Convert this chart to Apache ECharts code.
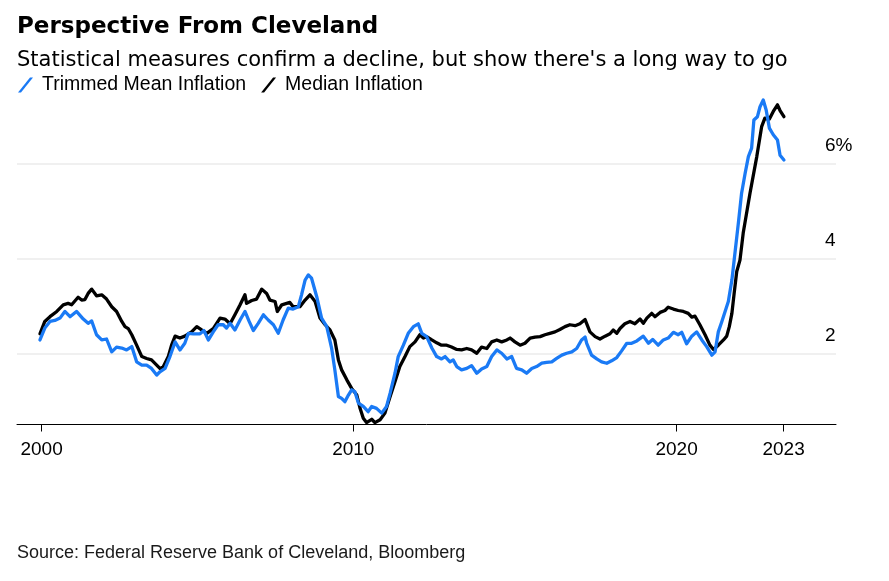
<!DOCTYPE html>
<html>
<head>
<meta charset="utf-8">
<script src="https://cdn.jsdelivr.net/npm/echarts@6/dist/echarts.min.js"></script>
<style>html,body{margin:0;padding:0;background:#fff}#c{width:889px;height:581px}</style>
</head>
<body>
<div id="c"></div>
<script>
// ---- Data ----
const medianYears = [2000.31,2000.46,2000.62,2000.83,2001.03,2001.18,2001.29,2001.49,2001.60,2001.70,2001.80,2001.91,2002.06,2002.22,2002.37,2002.53,2002.68,2002.84,2002.94,2003.04,2003.15,2003.30,2003.46,2003.61,2003.76,2003.92,2004.02,2004.12,2004.28,2004.38,2004.49,2004.64,2004.79,2005.00,2005.16,2005.31,2005.47,2005.67,2005.88,2006.03,2006.19,2006.34,2006.50,2006.65,2006.70,2006.86,2007.01,2007.17,2007.32,2007.42,2007.58,2007.65,2007.79,2008.04,2008.14,2008.35,2008.51,2008.66,2008.82,2008.97,2009.13,2009.28,2009.43,2009.54,2009.64,2009.80,2009.95,2010.11,2010.21,2010.31,2010.41,2010.57,2010.67,2010.83,2010.98,2011.14,2011.29,2011.44,2011.60,2011.75,2011.91,2012.06,2012.17,2012.27,2012.43,2012.58,2012.73,2012.89,2013.04,2013.20,2013.35,2013.51,2013.66,2013.82,2013.97,2014.13,2014.28,2014.44,2014.59,2014.75,2014.85,2015.00,2015.16,2015.31,2015.47,2015.62,2015.78,2015.93,2016.08,2016.24,2016.39,2016.55,2016.70,2016.86,2017.01,2017.17,2017.32,2017.48,2017.63,2017.79,2017.94,2018.04,2018.15,2018.25,2018.40,2018.56,2018.71,2018.87,2018.97,2019.08,2019.23,2019.33,2019.49,2019.64,2019.74,2019.90,2020.05,2020.21,2020.36,2020.47,2020.57,2020.72,2020.88,2021.03,2021.14,2021.29,2021.45,2021.55,2021.63,2021.71,2021.78,2021.86,2021.96,2022.06,2022.27,2022.48,2022.63,2022.73,2022.87,2022.99,2023.12,2023.20,2023.32];
const medianValues = [2.41,2.67,2.77,2.88,3.02,3.05,3.02,3.18,3.12,3.13,3.26,3.35,3.21,3.23,3.14,2.98,2.88,2.67,2.56,2.52,2.39,2.17,1.93,1.89,1.86,1.75,1.68,1.71,1.93,2.17,2.36,2.32,2.36,2.45,2.56,2.49,2.42,2.52,2.74,2.72,2.62,2.81,3.02,3.23,3.05,3.11,3.14,3.35,3.26,3.12,3.09,2.88,3.02,3.07,2.98,2.98,3.12,3.23,3.09,2.74,2.60,2.49,2.28,1.86,1.65,1.44,1.26,1.12,0.84,0.63,0.54,0.61,0.54,0.60,0.74,1.09,1.40,1.72,1.93,2.14,2.24,2.39,2.32,2.35,2.28,2.22,2.17,2.17,2.13,2.08,2.07,2.10,2.07,2.00,2.13,2.10,2.24,2.28,2.24,2.28,2.32,2.24,2.17,2.21,2.32,2.34,2.35,2.39,2.42,2.45,2.50,2.56,2.60,2.58,2.62,2.71,2.45,2.35,2.30,2.36,2.41,2.49,2.42,2.52,2.62,2.67,2.62,2.72,2.63,2.74,2.84,2.77,2.86,2.90,2.97,2.93,2.90,2.88,2.84,2.76,2.78,2.60,2.39,2.17,2.08,2.17,2.28,2.36,2.56,2.84,3.26,3.72,3.96,4.53,5.37,6.14,6.77,6.95,6.93,7.09,7.23,7.11,6.98];

const trimmedYears = [2000.31,2000.46,2000.62,2000.77,2000.93,2001.08,2001.24,2001.44,2001.65,2001.80,2001.91,2002.06,2002.22,2002.37,2002.53,2002.68,2002.84,2002.99,2003.15,2003.30,2003.46,2003.61,2003.76,2003.92,2004.02,2004.18,2004.33,2004.49,2004.64,2004.79,2004.90,2005.05,2005.26,2005.38,2005.52,2005.67,2005.82,2005.98,2006.08,2006.19,2006.34,2006.50,2006.65,2006.78,2006.91,2007.06,2007.22,2007.37,2007.53,2007.68,2007.83,2007.99,2008.14,2008.30,2008.40,2008.51,2008.61,2008.71,2008.87,2009.02,2009.18,2009.33,2009.43,2009.54,2009.64,2009.74,2009.85,2009.95,2010.05,2010.16,2010.31,2010.46,2010.57,2010.72,2010.88,2011.03,2011.14,2011.29,2011.39,2011.55,2011.70,2011.86,2012.01,2012.12,2012.27,2012.43,2012.58,2012.73,2012.84,2012.99,2013.09,2013.20,2013.35,2013.51,2013.66,2013.82,2013.97,2014.13,2014.28,2014.44,2014.59,2014.75,2014.90,2015.05,2015.21,2015.36,2015.52,2015.67,2015.83,2015.98,2016.14,2016.29,2016.45,2016.60,2016.76,2016.91,2017.06,2017.17,2017.22,2017.37,2017.53,2017.68,2017.84,2017.99,2018.15,2018.30,2018.46,2018.61,2018.77,2018.97,2019.13,2019.26,2019.43,2019.59,2019.74,2019.90,2020.05,2020.16,2020.31,2020.47,2020.62,2020.78,2020.93,2021.09,2021.19,2021.29,2021.40,2021.50,2021.60,2021.71,2021.77,2021.91,2022.01,2022.12,2022.22,2022.32,2022.39,2022.50,2022.58,2022.68,2022.77,2022.87,2022.99,2023.12,2023.20,2023.32];
const trimmedValues = [2.28,2.53,2.67,2.69,2.74,2.88,2.77,2.88,2.72,2.63,2.68,2.39,2.28,2.30,2.03,2.13,2.11,2.07,2.14,1.82,1.75,1.75,1.68,1.54,1.61,1.68,1.93,2.24,2.07,2.21,2.42,2.41,2.41,2.48,2.28,2.45,2.60,2.60,2.53,2.63,2.49,2.70,2.88,2.67,2.48,2.63,2.81,2.70,2.60,2.42,2.70,2.95,2.93,2.98,3.23,3.54,3.65,3.58,3.19,2.74,2.56,2.11,1.65,1.09,1.05,0.98,1.12,1.23,1.19,0.95,0.88,0.77,0.88,0.84,0.74,0.88,1.16,1.58,1.93,2.17,2.42,2.56,2.62,2.42,2.35,2.11,1.93,1.88,1.93,1.82,1.86,1.72,1.65,1.68,1.74,1.58,1.67,1.72,1.93,2.07,2.00,1.88,1.93,1.68,1.65,1.58,1.68,1.72,1.79,1.81,1.82,1.89,1.96,2.00,2.03,2.10,2.28,2.34,2.21,1.96,1.88,1.82,1.79,1.84,1.91,2.05,2.21,2.21,2.26,2.36,2.21,2.29,2.17,2.28,2.32,2.44,2.39,2.44,2.20,2.36,2.45,2.28,2.14,1.96,2.03,2.45,2.67,2.88,3.09,3.54,3.90,4.74,5.37,5.79,6.14,6.32,6.91,6.98,7.19,7.33,7.12,6.74,6.60,6.49,6.17,6.07];

// Axis ticks (x ticks sit at the first and last observation and at 2010, 2020)
const xTickValues = [2000.36, 2010, 2020, 2023.31];
const xTickLabels = ['2000', '2010', '2020', '2023'];
const yTickValues = [2, 4, 6];
const yTickLabels = ['2', '4', '6%'];

const zip = (xs, ys) => xs.map((x, i) => [x, ys[i]]);

const chart = echarts.init(document.getElementById('c'), null, { renderer: 'canvas' });
chart.setOption({
  animation: false,
  backgroundColor: '#fff',
  title: [
    { text: 'Perspective From Cleveland', left: 17, top: 16, padding: 0,
      textStyle: { fontFamily: 'DejaVu Sans', fontWeight: 'bold', fontSize: 23, color: '#000' } },
    { text: "Statistical measures confirm a decline, but show there's a long way to go", left: 17, top: 50, padding: 0,
      textStyle: { fontFamily: 'DejaVu Sans', fontWeight: 'normal', fontSize: 21, color: '#000' } },
    { text: 'Source: Federal Reserve Bank of Cleveland, Bloomberg', left: 17, top: 544, padding: 0,
      textStyle: { fontFamily: 'Liberation Sans', fontWeight: 'normal', fontSize: 18, color: '#1a1a1a' } }
  ],
  legend: {
    left: 18, top: 75, padding: 0, itemGap: 15, itemWidth: 15, itemHeight: 15,
    icon: 'path://M0,15L3,15L15,0L12,0Z',
    itemStyle: { borderWidth: 0 },
    textStyle: { fontFamily: 'Liberation Sans', fontSize: 19.5, color: '#000', padding: [0, 0, 0, 4] },
    data: ['Trimmed Mean Inflation', 'Median Inflation'],
    selectedMode: false
  },
  grid: { left: 17, right: 53, top: 92, bottom: 156.5, containLabel: false },
  xAxis: {
    type: 'value', min: 1999.6, max: 2024.93,
    axisLine: { show: true, onZero: false, lineStyle: { color: '#000', width: 1 } },
    axisTick: { show: true, length: 7, customValues: xTickValues, lineStyle: { color: '#000', width: 1 } },
    axisLabel: { customValues: xTickValues, formatter: (v, i) => xTickLabels[xTickValues.indexOf(v)] ?? xTickLabels[i],
      fontFamily: 'Liberation Sans', fontSize: 19, color: '#000', margin: 16 },
    splitLine: { show: false }
  },
  yAxis: {
    type: 'value', position: 'right', min: 0.5, max: 7.5,
    axisLine: { show: false },
    axisTick: { show: false, customValues: yTickValues },
    axisLabel: { customValues: yTickValues, inside: true, margin: 11, align: 'left', verticalAlign: 'bottom',
      padding: [0, 0, 8, 0], fontFamily: 'Liberation Sans', fontSize: 19, color: '#000',
      formatter: (v) => yTickLabels[yTickValues.indexOf(v)] },
    splitLine: { show: true, lineStyle: { color: '#ebebeb', width: 1.5 } }
  },
  series: [
    { name: 'Median Inflation', type: 'line', data: zip(medianYears, medianValues),
      showSymbol: false, symbol: 'none', silent: true,
      lineStyle: { color: '#000000', width: 3.3, join: 'round', cap: 'round' }, itemStyle: { color: '#000000' }, z: 2 },
    { name: 'Trimmed Mean Inflation', type: 'line', data: zip(trimmedYears, trimmedValues),
      showSymbol: false, symbol: 'none', silent: true,
      lineStyle: { color: '#1a7af5', width: 3.3, join: 'round', cap: 'round' }, itemStyle: { color: '#1a7af5' }, z: 3 }
  ]
});
</script>
</body>
</html>
